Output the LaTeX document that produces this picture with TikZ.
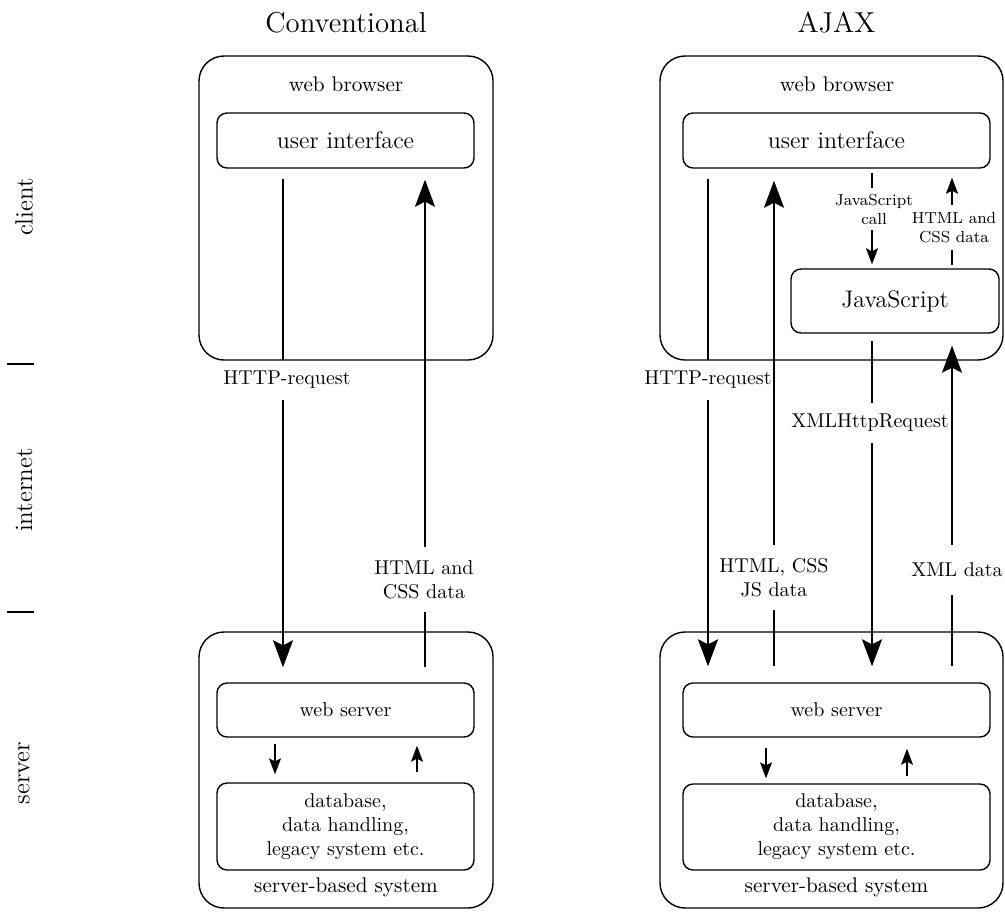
\documentclass[tikz,border=0pt]{standalone}
\usetikzlibrary{arrows.meta}
\begin{document}
\begin{tikzpicture}[x=0.5pt,y=-0.5pt,
  outerbox/.style={draw, rounded corners=12.5pt, line width=0.7pt, inner sep=0pt},
  innerbox/.style={draw, rounded corners=5pt, line width=0.7pt, inner sep=0pt},
  lbl/.style={inner sep=0pt, align=center},
  bigline/.style={line width=1pt},
  bigarrow/.style={line width=1pt, -{Stealth[length=13.5pt,width=10pt,inset=2.5pt]}},
  midline/.style={line width=1pt},
  midarrow/.style={line width=1pt, -{Stealth[length=8pt,width=6pt,inset=1.5pt]}},
  smallarrow/.style={line width=0.65pt, -{Stealth[length=8pt,width=6pt,inset=1.5pt]}},
  sidelbl/.style={rotate=90, font=\fontsize{12.5}{15}\selectfont},
  brtext/.style={anchor=base, font=\fontsize{10.6}{13}\selectfont}
]
\useasboundingbox (0,0) rectangle (1005,912);

% side labels and ticks
\node[sidelbl] (client) at (24,207) {client};
\node[sidelbl] (internet) at (24,490) {internet};
\node[sidelbl] (server) at (24,773) {server};
\coordinate (t1a) at (7,364); \coordinate (t1b) at (34,364);
\coordinate (t2a) at (7,612); \coordinate (t2b) at (34,612);
\draw[line width=0.6pt] (t1a) -- (t1b);
\draw[line width=0.6pt] (t2a) -- (t2b);

% ===== Conventional =====
\node[anchor=base, font=\Large] (titleL) at (346,32) {Conventional};
\node[outerbox, minimum width=147pt, minimum height=152pt] (brL) at (346,208) {};
\node[brtext] (brLt) at (346,91) {web browser};
\node[innerbox, minimum width=128.5pt, minimum height=27.5pt, font=\large] (uiL) at (345.5,140.5) {user interface};

\node[outerbox, minimum width=147pt, minimum height=138pt] (svL) at (346,770) {};
\node[innerbox, minimum width=128.5pt, minimum height=27pt] (wsL) at (345.5,710) {web server};
\node[innerbox, minimum width=128.5pt, minimum height=43.5pt, align=center] (dbL) at (345.5,826.5) {database,\\ data handling,\\ legacy system etc.};
\node[brtext] (svLt) at (346,892) {server-based system};

\node[lbl, minimum height=20pt] (httpL) at (287,380) {HTTP-request};
\node[lbl, minimum height=32.5pt] (htmlL) at (424,579.5) {HTML and\\CSS data};

\coordinate (xL1) at (283,0); \coordinate (xL2) at (425,0);
\coordinate (xL3) at (275,0); \coordinate (xL4) at (417,0);

\draw[bigline] ([yshift=-5pt]uiL.south -| xL1) -- (httpL.north -| xL1);
\draw[bigarrow] (httpL.south -| xL1) -- ([yshift=7.5pt]wsL.north -| xL1);
\draw[bigline] ([yshift=7.5pt]wsL.north -| xL2) -- (htmlL.south -| xL2);
\draw[bigarrow] (htmlL.north -| xL2) -- ([yshift=-5.5pt]uiL.south -| xL2);
\draw[smallarrow] ([yshift=-3pt]wsL.south -| xL3) -- ([yshift=4pt]dbL.north -| xL3);
\draw[smallarrow] ([yshift=5pt]dbL.north -| xL4) -- ([yshift=-4pt]wsL.south -| xL4);

% ===== AJAX =====
\node[anchor=base, font=\Large] (titleR) at (836.5,32) {AJAX};
\node[outerbox, minimum width=171.5pt, minimum height=152pt] (brR) at (831.5,208) {};
\node[brtext] (brRt) at (837,91) {web browser};
\node[innerbox, minimum width=153.5pt, minimum height=27.5pt, font=\large] (uiR) at (836.5,140.5) {user interface};
\node[innerbox, minimum width=104pt, minimum height=32pt, font=\large] (js) at (895,301) {JavaScript};

\node[outerbox, minimum width=171.5pt, minimum height=138pt] (svR) at (831.5,770) {};
\node[innerbox, minimum width=153.5pt, minimum height=27pt] (wsR) at (836.5,710) {web server};
\node[innerbox, minimum width=153.5pt, minimum height=43pt, align=center] (dbR) at (836.5,827) {database,\\ data handling,\\ legacy system etc.};
\node[brtext] (svRt) at (836.5,892) {server-based system};

\node[lbl, minimum height=20pt] (httpR) at (708,380) {HTTP-request};
\node[lbl, minimum height=32.5pt] (htmljs) at (774,577.5) {HTML, CSS\\JS data};
\node[lbl, minimum height=20pt] (xhr) at (870,423) {XMLHttpRequest};
\node[lbl, minimum height=25pt] (xmld) at (957,570) {XML data};
\node[lbl, minimum height=21pt, font=\footnotesize] (jscall) at (874,209) {JavaScript\\call};
\node[lbl, minimum height=22.5pt, font=\footnotesize] (htmls) at (954,227.5) {HTML and\\CSS data};

\coordinate (xR1) at (708,0); \coordinate (xR2) at (774,0);
\coordinate (xR3) at (872,0); \coordinate (xR4) at (952,0);
\coordinate (xR5) at (766,0); \coordinate (xR6) at (907,0);

\draw[bigline] ([yshift=-5pt]uiR.south -| xR1) -- (httpR.north -| xR1);
\draw[bigarrow] (httpR.south -| xR1) -- ([yshift=8pt]wsR.north -| xR1);
\draw[bigline] ([yshift=8pt]wsR.north -| xR2) -- (htmljs.south -| xR2);
\draw[bigarrow] (htmljs.north -| xR2) -- ([yshift=-6pt]uiR.south -| xR2);
\draw[midline] ([yshift=-2pt]uiR.south -| xR3) -- (jscall.north -| xR3);
\draw[midarrow] (jscall.south -| xR3) -- ([yshift=2pt]js.north -| xR3);
\draw[midline] ([yshift=1.5pt]js.north -| xR4) -- (htmls.south -| xR4);
\draw[midarrow] (htmls.north -| xR4) -- ([yshift=-4.5pt]uiR.south -| xR4);
\draw[bigline] ([yshift=-3.5pt]js.south -| xR3) -- (xhr.north -| xR3);
\draw[bigarrow] (xhr.south -| xR3) -- ([yshift=8pt]wsR.north -| xR3);
\draw[bigline] ([yshift=8pt]wsR.north -| xR4) -- (xmld.south -| xR4);
\draw[bigarrow] (xmld.north -| xR4) -- ([yshift=-6pt]js.south -| xR4);
\draw[smallarrow] ([yshift=-5pt]wsR.south -| xR5) -- ([yshift=2.5pt]dbR.north -| xR5);
\draw[smallarrow] ([yshift=3.5pt]dbR.north -| xR6) -- ([yshift=-5.5pt]wsR.south -| xR6);
\end{tikzpicture}
\end{document}
